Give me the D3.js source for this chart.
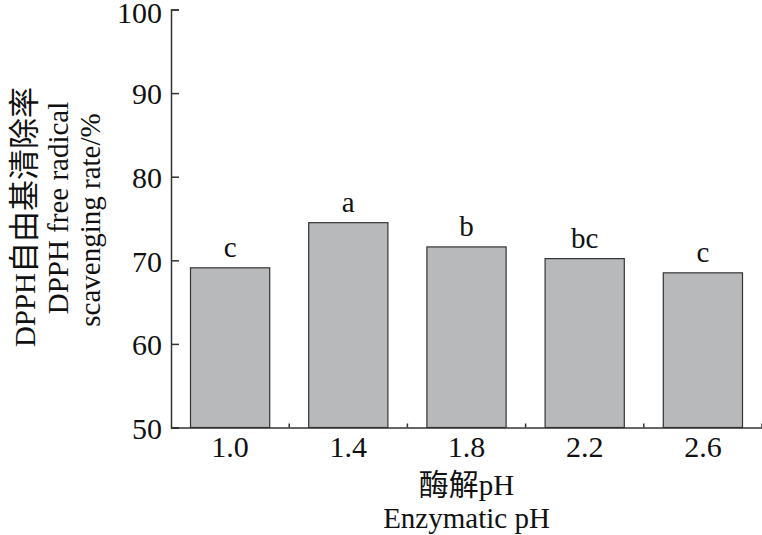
<!DOCTYPE html>
<html>
<head>
<meta charset="utf-8">
<title>DPPH</title>
<script src="https://d3js.org/d3.v7.min.js"></script>
<style>
  body { margin: 0; background: #fff; }
  text { font-family: "Liberation Serif", "Noto Sans CJK SC", serif; fill: #111; }
  .cjk { font-family: "Noto Sans CJK SC", sans-serif; }
</style>
</head>
<body>
<div id="chart"></div>
<script>
const categories = ["1.0", "1.4", "1.8", "2.2", "2.6"];
const values = [69.1, 74.5, 71.6, 70.2, 68.5];
const letters = ["c", "a", "b", "bc", "c"];
const yTicks = [50, 60, 70, 80, 90, 100];

const W = 762, H = 535;
const margin = {top: 9.5, right: 0, bottom: 107.5, left: 171};
const w = W - margin.left - margin.right;
const h = H - margin.top - margin.bottom;

const svg = d3.select("#chart").append("svg")
    .attr("width", W).attr("height", H);
const g = svg.append("g")
    .attr("transform", "translate(" + margin.left + "," + margin.top + ")");

const x = d3.scaleBand().domain(categories).range([0, w]).paddingInner(0.33).paddingOuter(0.165);
const y = d3.scaleLinear().domain([50, 100]).range([h, 0]);

// bars
g.selectAll("rect.bar")
    .data(values)
    .enter().append("rect")
    .attr("class", "bar")
    .attr("x", (d, i) => x(categories[i]))
    .attr("y", d => y(d))
    .attr("width", x.bandwidth())
    .attr("height", d => h - y(d))
    .attr("fill", "#b8b9bb")
    .attr("stroke", "#333")
    .attr("stroke-width", 1.2);

// significance letters
g.selectAll("text.sig")
    .data(values)
    .enter().append("text")
    .attr("class", "sig")
    .attr("x", (d, i) => x(categories[i]) + x.bandwidth() / 2)
    .attr("y", d => y(d) - 11)
    .attr("text-anchor", "middle")
    .attr("font-size", "29px")
    .text((d, i) => letters[i]);

// y axis
const yAxis = g.append("g")
    .call(d3.axisLeft(y).tickValues(yTicks).tickSize(-8).tickPadding(9));
yAxis.select(".domain").attr("stroke", "#333").attr("stroke-width", 1.5);
yAxis.selectAll(".tick line").attr("stroke", "#333").attr("stroke-width", 1.5);
yAxis.selectAll(".tick text").attr("font-size", "30px").attr("fill", "#111")
    .attr("dy", d => d === 100 ? "0.42em" : "0.36em");

// x axis: small ticks at band boundaries
const xAxis = g.append("g").attr("transform", "translate(0," + h + ")")
    .call(d3.axisBottom(x).tickSize(0).tickPadding(8));
xAxis.select(".domain").attr("stroke", "#333").attr("stroke-width", 1.5);
xAxis.selectAll(".tick text").attr("font-size", "30px").attr("fill", "#111").attr("dy", "0.71em");
const step = x.step();
g.selectAll("line.bnd")
    .data(categories)
    .enter().append("line")
    .attr("class", "bnd")
    .attr("x1", (d, i) => x(d) + x.bandwidth() + (step - x.bandwidth()) / 2)
    .attr("x2", (d, i) => x(d) + x.bandwidth() + (step - x.bandwidth()) / 2)
    .attr("y1", h).attr("y2", h - 4)
    .attr("stroke", "#333").attr("stroke-width", 1.5);

// x axis title
const xt1 = g.append("text")
    .attr("x", w / 2).attr("y", h + 67)
    .attr("text-anchor", "middle").attr("font-size", "29px");
xt1.append("tspan").attr("class", "cjk").attr("font-size", "30px").text("酶解");
xt1.append("tspan").text("pH");
g.append("text")
    .attr("x", w / 2).attr("y", h + 100)
    .attr("text-anchor", "middle").attr("font-size", "29px")
    .text("Enzymatic pH");

// y axis title (three rotated lines)
const yTitleX = [35, 68, 100];
const yTitleY = [217, 208, 220];
const t1 = svg.append("text")
    .attr("transform", "translate(" + yTitleX[0] + "," + yTitleY[0] + ") rotate(-90)")
    .attr("text-anchor", "middle").attr("font-size", "29px");
t1.append("tspan").text("DPPH");
t1.append("tspan").attr("class", "cjk").attr("font-size", "31px").text("自由基清除率");
svg.append("text")
    .attr("transform", "translate(" + yTitleX[1] + "," + yTitleY[1] + ") rotate(-90)")
    .attr("text-anchor", "middle").attr("font-size", "29px")
    .text("DPPH free radical");
svg.append("text")
    .attr("transform", "translate(" + yTitleX[2] + "," + yTitleY[2] + ") rotate(-90)")
    .attr("text-anchor", "middle").attr("font-size", "29px")
    .text("scavenging rate/%");
</script>
</body>
</html>
